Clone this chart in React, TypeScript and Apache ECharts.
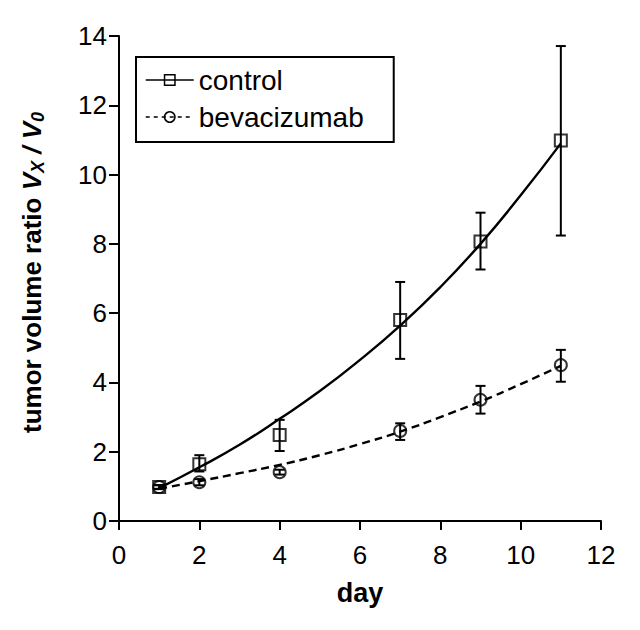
import React, { useEffect, useRef } from "react";
import * as echarts from "echarts";

// measured days
const days = [1, 2, 4, 7, 9, 11];

// control group: mean and error bar limits
const controlMean = [0.98, 1.64, 2.48, 5.8, 8.07, 10.98];
const controlLow = [0.92, 1.43, 2.02, 4.68, 7.26, 8.24];
const controlHigh = [1.04, 1.9, 2.92, 6.9, 8.9, 13.71];

// bevacizumab group: mean and error bar limits
const bevaMean = [0.98, 1.12, 1.41, 2.6, 3.5, 4.5];
const bevaLow = [0.93, 1.03, 1.34, 2.34, 3.1, 4.02];
const bevaHigh = [1.03, 1.21, 1.48, 2.82, 3.9, 4.94];

// fitted curves at each day
const fitDays = [1, 2, 3, 4, 5, 6, 7, 8, 9, 10, 11];
const fitControl = [0.95, 1.55, 2.2, 2.95, 3.75, 4.65, 5.64, 6.75, 8.0, 9.4, 10.9];
const fitBeva = [0.93, 1.15, 1.38, 1.62, 1.9, 2.22, 2.58, 3.0, 3.45, 3.95, 4.48];

const FONT = "'Liberation Sans', Arial, Helvetica, sans-serif";

export default function App() {
  const ref = useRef<HTMLDivElement>(null);

  useEffect(() => {
    if (!ref.current) return;
    const chart = echarts.init(ref.current, null, { renderer: "svg" });

    const errData = (low: number[], high: number[]) =>
      days.map((d, i) => [d, low[i], high[i]]);

    const errorRender = (params: any, api: any) => {
      const x = api.value(0);
      const lo = api.coord([x, api.value(1)]);
      const hi = api.coord([x, api.value(2)]);
      const cap = 5;
      const style = { stroke: "#000", lineWidth: 2 };
      return {
        type: "group",
        children: [
          { type: "line", shape: { x1: lo[0], y1: lo[1], x2: hi[0], y2: hi[1] }, style },
          { type: "line", shape: { x1: lo[0] - cap, y1: lo[1], x2: lo[0] + cap, y2: lo[1] }, style },
          { type: "line", shape: { x1: hi[0] - cap, y1: hi[1], x2: hi[0] + cap, y2: hi[1] }, style },
        ],
      };
    };

    const markerStyle = { color: "rgba(0,0,0,0)", borderColor: "#000", borderWidth: 2 };

    chart.setOption({
      animation: false,
      grid: { left: 119, right: 39, top: 36, bottom: 109, containLabel: false },
      legend: {
        left: 136,
        top: 57,
        orient: "vertical",
        padding: [9, 30, 11, 9],
        itemGap: 9,
        itemWidth: 48,
        itemHeight: 13,
        borderColor: "#000",
        borderWidth: 2,
        borderRadius: 0,
        textStyle: { fontSize: 28, color: "#000", fontFamily: FONT },
        itemStyle: { color: "rgba(0,0,0,0)", borderColor: "#000", borderWidth: 1.5 },
        data: [
          { name: "control", lineStyle: { color: "#000", width: 1.5, type: "solid" } },
          { name: "bevacizumab", lineStyle: { color: "#000", width: 1.5, type: [4, 4] } },
        ],
      },
      xAxis: {
        type: "value",
        min: 0,
        max: 12,
        interval: 2,
        name: "day",
        nameLocation: "middle",
        nameGap: 58,
        nameTextStyle: { fontSize: 27, fontWeight: "bold", color: "#000", fontFamily: FONT },
        splitLine: { show: false },
        axisLine: { show: true, lineStyle: { color: "#000", width: 2 } },
        axisTick: { show: true, length: 9, lineStyle: { color: "#000", width: 2 } },
        axisLabel: { fontSize: 26, color: "#000", margin: 21, fontFamily: FONT },
      },
      yAxis: {
        type: "value",
        min: 0,
        max: 14,
        interval: 2,
        name: "tumor volume ratio {v|V}{sub|X}{v| / V}{sub|0}",
        nameLocation: "middle",
        nameGap: 72,
        nameTextStyle: {
          fontSize: 26,
          fontWeight: "bold",
          color: "#000",
          fontFamily: FONT,
          lineHeight: 30,
          padding: [0, 0, 0, 12],
          rich: {
            v: { fontSize: 26, fontWeight: "bold", fontStyle: "italic", color: "#000", fontFamily: FONT, lineHeight: 30 },
            sub: {
              fontSize: 18,
              fontWeight: "bold",
              fontStyle: "italic",
              color: "#000",
              fontFamily: FONT,
              lineHeight: 16,
              verticalAlign: "bottom",
            },
          },
        },
        splitLine: { show: false },
        axisLine: { show: true, lineStyle: { color: "#000", width: 2 } },
        axisTick: { show: true, length: 10, lineStyle: { color: "#000", width: 2 } },
        axisLabel: { fontSize: 26, color: "#000", margin: 12, fontFamily: FONT },
      },
      series: [
        {
          name: "control",
          type: "line",
          data: fitDays.map((d, i) => [d, fitControl[i]]),
          smooth: true,
          symbol: "rect",
          showSymbol: false,
          lineStyle: { color: "#000", width: 2.4, type: "solid" },
          itemStyle: markerStyle,
          silent: true,
          z: 2,
        },
        {
          name: "bevacizumab",
          type: "line",
          data: fitDays.map((d, i) => [d, fitBeva[i]]),
          smooth: true,
          symbol: "circle",
          showSymbol: false,
          lineStyle: { color: "#000", width: 2.4, type: [8, 5] },
          itemStyle: markerStyle,
          silent: true,
          z: 2,
        },
        {
          name: "controlErr",
          type: "custom",
          data: errData(controlLow, controlHigh),
          renderItem: errorRender,
          silent: true,
          z: 3,
        },
        {
          name: "bevaErr",
          type: "custom",
          data: errData(bevaLow, bevaHigh),
          renderItem: errorRender,
          silent: true,
          z: 3,
        },
        {
          name: "controlPts",
          type: "scatter",
          data: days.map((d, i) => [d, controlMean[i]]),
          symbol: "rect",
          symbolSize: 12,
          itemStyle: markerStyle,
          silent: true,
          z: 4,
        },
        {
          name: "bevaPts",
          type: "scatter",
          data: days.map((d, i) => [d, bevaMean[i]]),
          symbol: "circle",
          symbolSize: 12,
          itemStyle: markerStyle,
          silent: true,
          z: 4,
        },
      ],
    });

    return () => chart.dispose();
  }, []);

  return (
    <div
      ref={ref}
      style={{ position: "fixed", left: 0, top: 0, width: 640, height: 630, background: "#fff" }}
    />
  );
}
